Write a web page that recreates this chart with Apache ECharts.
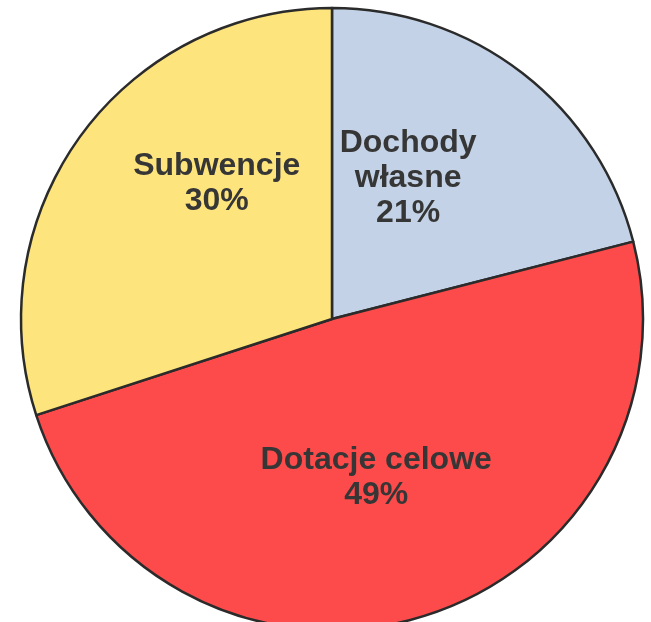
<!DOCTYPE html>
<html>
<head>
<meta charset="utf-8">
<script src="https://cdn.jsdelivr.net/npm/echarts@6/dist/echarts.min.js"></script>
<style>
html,body{margin:0;padding:0;background:#fff;}
#c{width:651px;height:622px;}
</style>
</head>
<body>
<div id="c"></div>
<script>
const categories = ['Dochody\nwłasne', 'Dotacje celowe', 'Subwencje'];
const values = [21, 49, 30];
const colors = ['#c3d2e6', '#fd4b4b', '#fde47c'];
// label nudges (px) relative to the default inside position
const labelNudge = [[-21, -16], [0, 6], [13, -42]];

const chart = echarts.init(document.getElementById('c'), null, {renderer: 'canvas'});
chart.setOption({
  backgroundColor: '#ffffff',
  animation: false,
  series: [{
    type: 'pie',
    center: [332, 319],
    radius: 311,
    startAngle: 90,
    clockwise: true,
    silent: true,
    data: categories.map((n, i) => ({
      name: n,
      value: values[i],
      itemStyle: {color: colors[i]}
    })),
    itemStyle: {borderColor: '#2b2b2b', borderWidth: 2.5},
    label: {
      show: true,
      position: 'inside',
      formatter: p => p.name + '\n' + p.value + '%',
      fontFamily: 'Liberation Sans, Arial, sans-serif',
      fontWeight: 'bold',
      fontSize: 32,
      lineHeight: 35,
      color: '#363636',
      align: 'center'
    },
    labelLine: {show: false},
    labelLayout: p => ({dx: labelNudge[p.dataIndex][0], dy: labelNudge[p.dataIndex][1]})
  }]
});
</script>
</body>
</html>
